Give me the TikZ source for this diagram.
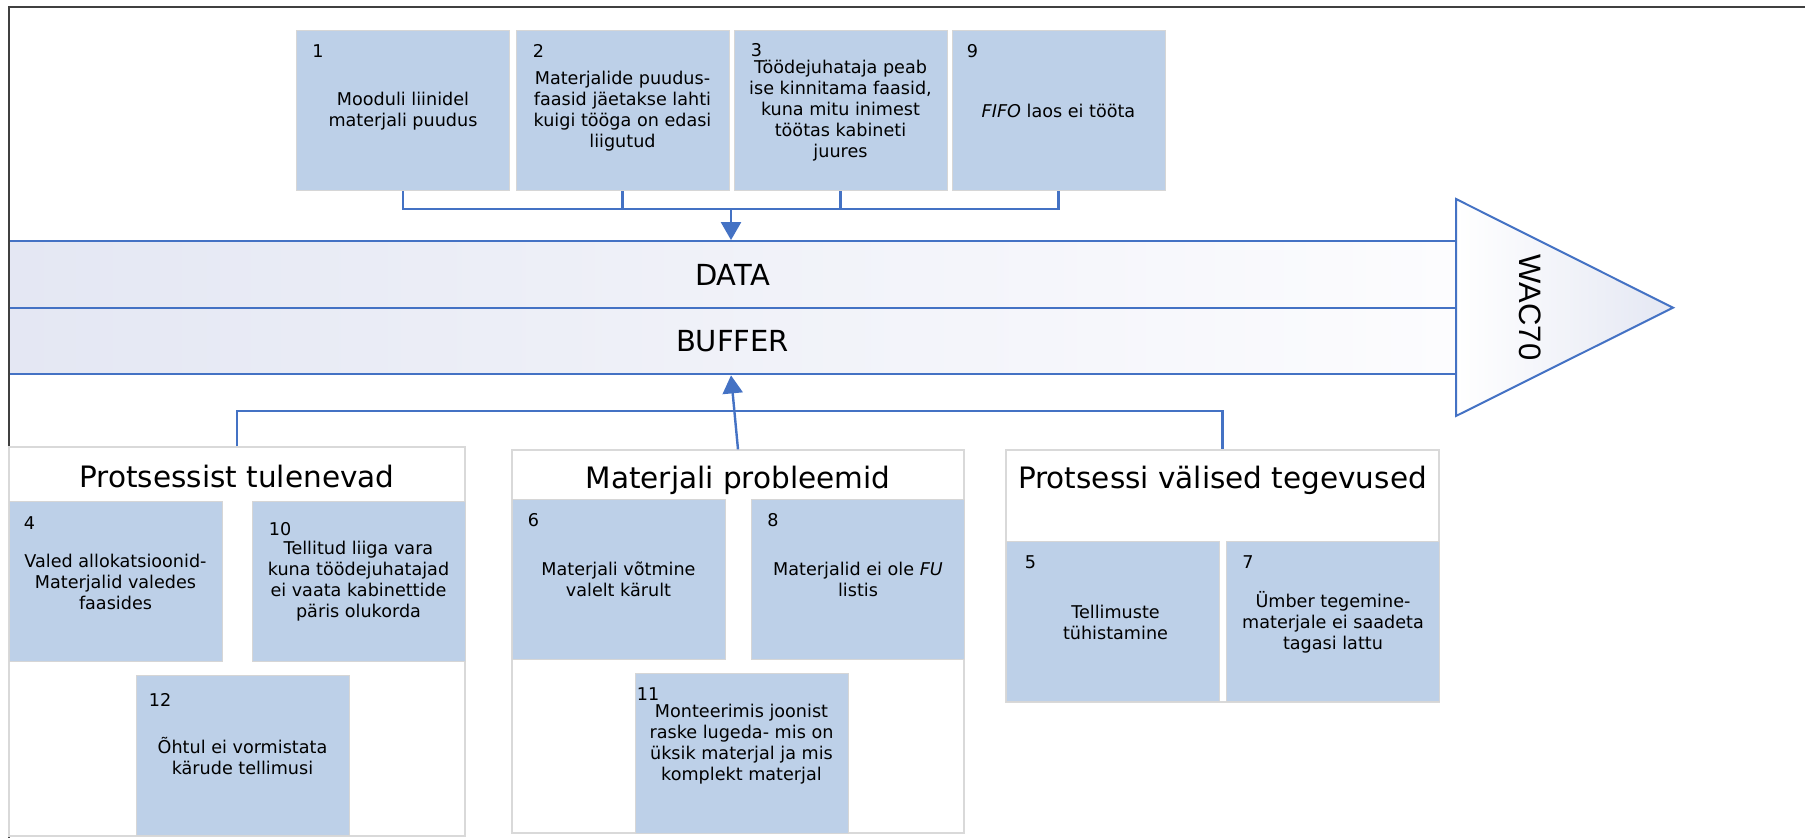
\documentclass[tikz,border=0pt]{standalone}
\usepackage{fontspec}
\setmainfont{DejaVu Sans}
\newfontfamily\wacfont{Liberation Sans}
\usetikzlibrary{arrows.meta}

\definecolor{linkblue}{RGB}{68,114,196}
\definecolor{causefill}{RGB}{189,208,232}
\definecolor{causeedge}{RGB}{214,214,214}
\definecolor{groupedge}{RGB}{217,217,217}
\definecolor{frameline}{RGB}{64,64,64}
\definecolor{bandleft}{RGB}{228,231,243}
\definecolor{bandright}{RGB}{252,252,254}

\tikzset{
  cause/.style={draw=causeedge, line width=0.5pt, fill=causefill,
    minimum width=106.5pt, minimum height=80pt, inner sep=0pt},
  body/.style={align=center, font=\fontsize{8.8}{10.5}\selectfont, inner sep=0pt},
  num/.style={anchor=north west, font=\fontsize{8.8}{10.5}\selectfont, inner sep=0pt},
  group/.style={draw=groupedge, line width=0.6pt, fill=white, inner sep=0pt},
  gtitle/.style={anchor=base, font=\fontsize{14.75}{17}\selectfont, inner sep=0pt},
  band/.style={draw=linkblue, line width=1pt, left color=bandleft, right color=bandright,
    minimum width=723.5pt, minimum height=33.4pt, inner sep=0pt,
    font=\fontsize{14.5}{17}\selectfont},
  link/.style={draw=linkblue, line width=1.2pt},
  tip/.style={-{Triangle[length=9pt,width=10pt]}},
}

\begin{document}
\begin{tikzpicture}[x={(0.5pt,0)}, y={(0,-0.5pt)}]
\useasboundingbox (0,0) rectangle (1805,838);

% spine: two bands and the head
\node[band] (data) at (732.5,274.5) {DATA};
\node[band] (buffer) at (732.5,341) {BUFFER};
\draw[draw=linkblue, line width=1pt, left color=white, right color=bandleft]
  (1456,199) coordinate (h1) -- (1456,416) coordinate (h2) -- (1673,307.7) coordinate (h3) -- cycle;
\node[rotate=-90, font=\wacfont\fontsize{15.5}{18}\selectfont, inner sep=0pt] (wac) at (1530,307.5) {WAC70};

% outer frame
\draw[frameline, line width=1pt] (8.7,838) -- (8.7,6.7) -- (1805,6.7);

% top causes
\node[cause] (b1) at (403,111) {};
\node[num] (n1) at ([shift={(16,14)}]b1.north west) {1};
\node[body] (t1) at (b1.center) {Mooduli liinidel\\materjali puudus};

\node[cause] (b2) at (622.5,111) {};
\node[num] (n2) at ([shift={(17,14)}]b2.north west) {2};
\node[body] (t2) at (b2.center) {Materjalide puudus-\\faasid jäetakse lahti\\kuigi tööga on edasi\\liigutud};

\node[cause] (b3) at (840.5,111) {};
\node[num] (n3) at ([shift={(17,13)}]b3.north west) {3};
\node[body] (t3) at (b3.center) {Töödejuhataja peab\\ise kinnitama faasid,\\kuna mitu inimest\\töötas kabineti\\juures};

\node[cause] (b9) at (1058.5,111) {};
\node[num] (n9) at ([shift={(15,14)}]b9.north west) {9};
\node[body] (t9) at (b9.center) {\textit{FIFO} laos ei tööta};

% top connectors
\coordinate (tbar) at (731,209);
\draw[link] (b1.south) |- (tbar) -| (b9.south);
\draw[link] (b2.south) -- (b2.south |- tbar);
\draw[link] (b3.south) -- (b3.south |- tbar);
\draw[link, tip] (tbar) -- (data.north -| tbar);

% group: Protsessist tulenevad
\node[group, minimum width=228pt, minimum height=194.5pt] (g1) at (237,641.5) {};
\node[gtitle] (g1t) at ([shift={(0,41)}]g1.north) {Protsessist tulenevad};

\node[cause] (b4) at (115.5,581.5) {};
\node[num] (n4) at ([shift={(15,15)}]b4.north west) {4};
\node[body] (t4) at (b4.center) {Valed allokatsioonid-\\Materjalid valedes\\faasides};

\node[cause] (b10) at (358.5,581.5) {};
\node[num] (n10) at ([shift={(17,21)}]b10.north west) {10};
\node[body] (t10) at (b10.center) {Tellitud liiga vara\\kuna töödejuhatajad\\ei vaata kabinettide\\päris olukorda};

\node[cause] (b12) at (242.5,756) {};
\node[num] (n12) at ([shift={(13,18)}]b12.north west) {12};
\node[body] (t12) at (b12.center) {Õhtul ei vormistata\\kärude tellimusi};

% group: Materjali probleemid
\node[group, minimum width=226pt, minimum height=191.5pt] (g2) at (738,641.5) {};
\node[gtitle] (g2t) at ([shift={(0,39)}]g2.north) {Materjali probleemid};

\node[cause] (b6) at (618.5,579.5) {};
\node[num] (n6) at ([shift={(16,14)}]b6.north west) {6};
\node[body] (t6) at (b6.center) {Materjali võtmine\\valelt kärult};

\node[cause] (b8) at (858,579.5) {};
\node[num] (n8) at ([shift={(16,14)}]b8.north west) {8};
\node[body] (t8) at (b8.center) {Materjalid ei ole \textit{FU}\\listis};

\node[cause] (b11) at (741.5,753.5) {};
\node[num] (n11) at ([shift={(2,14)}]b11.north west) {11};
\node[body] (t11) at ([shift={(0,-9)}]b11.center) {Monteerimis joonist\\raske lugeda- mis on\\üksik materjal ja mis\\komplekt materjal};

% group: Protsessi välised tegevused
\node[group, minimum width=216.5pt, minimum height=126pt] (g3) at (1222.5,576) {};
\node[gtitle] (g3t) at ([shift={(0,39)}]g3.north) {Protsessi välised tegevused};

\node[cause] (b5) at (1112.5,622) {};
\node[num] (n5) at ([shift={(19,14)}]b5.north west) {5};
\node[body] (t5) at ([shift={(3,0)}]b5.center) {Tellimuste\\tühistamine};

\node[cause] (b7) at (1333,622) {};
\node[num] (n7) at ([shift={(16,14)}]b7.north west) {7};
\node[body] (t7) at (b7.center) {Ümber tegemine-\\materjale ei saadeta\\tagasi lattu};

% bottom connectors
\coordinate (bbar) at (731,411);
\draw[link] (g1.north) |- (bbar) -| (g3.north);
\draw[link, tip] (g2.north) -- (buffer.south -| bbar);

\end{tikzpicture}
\end{document}
